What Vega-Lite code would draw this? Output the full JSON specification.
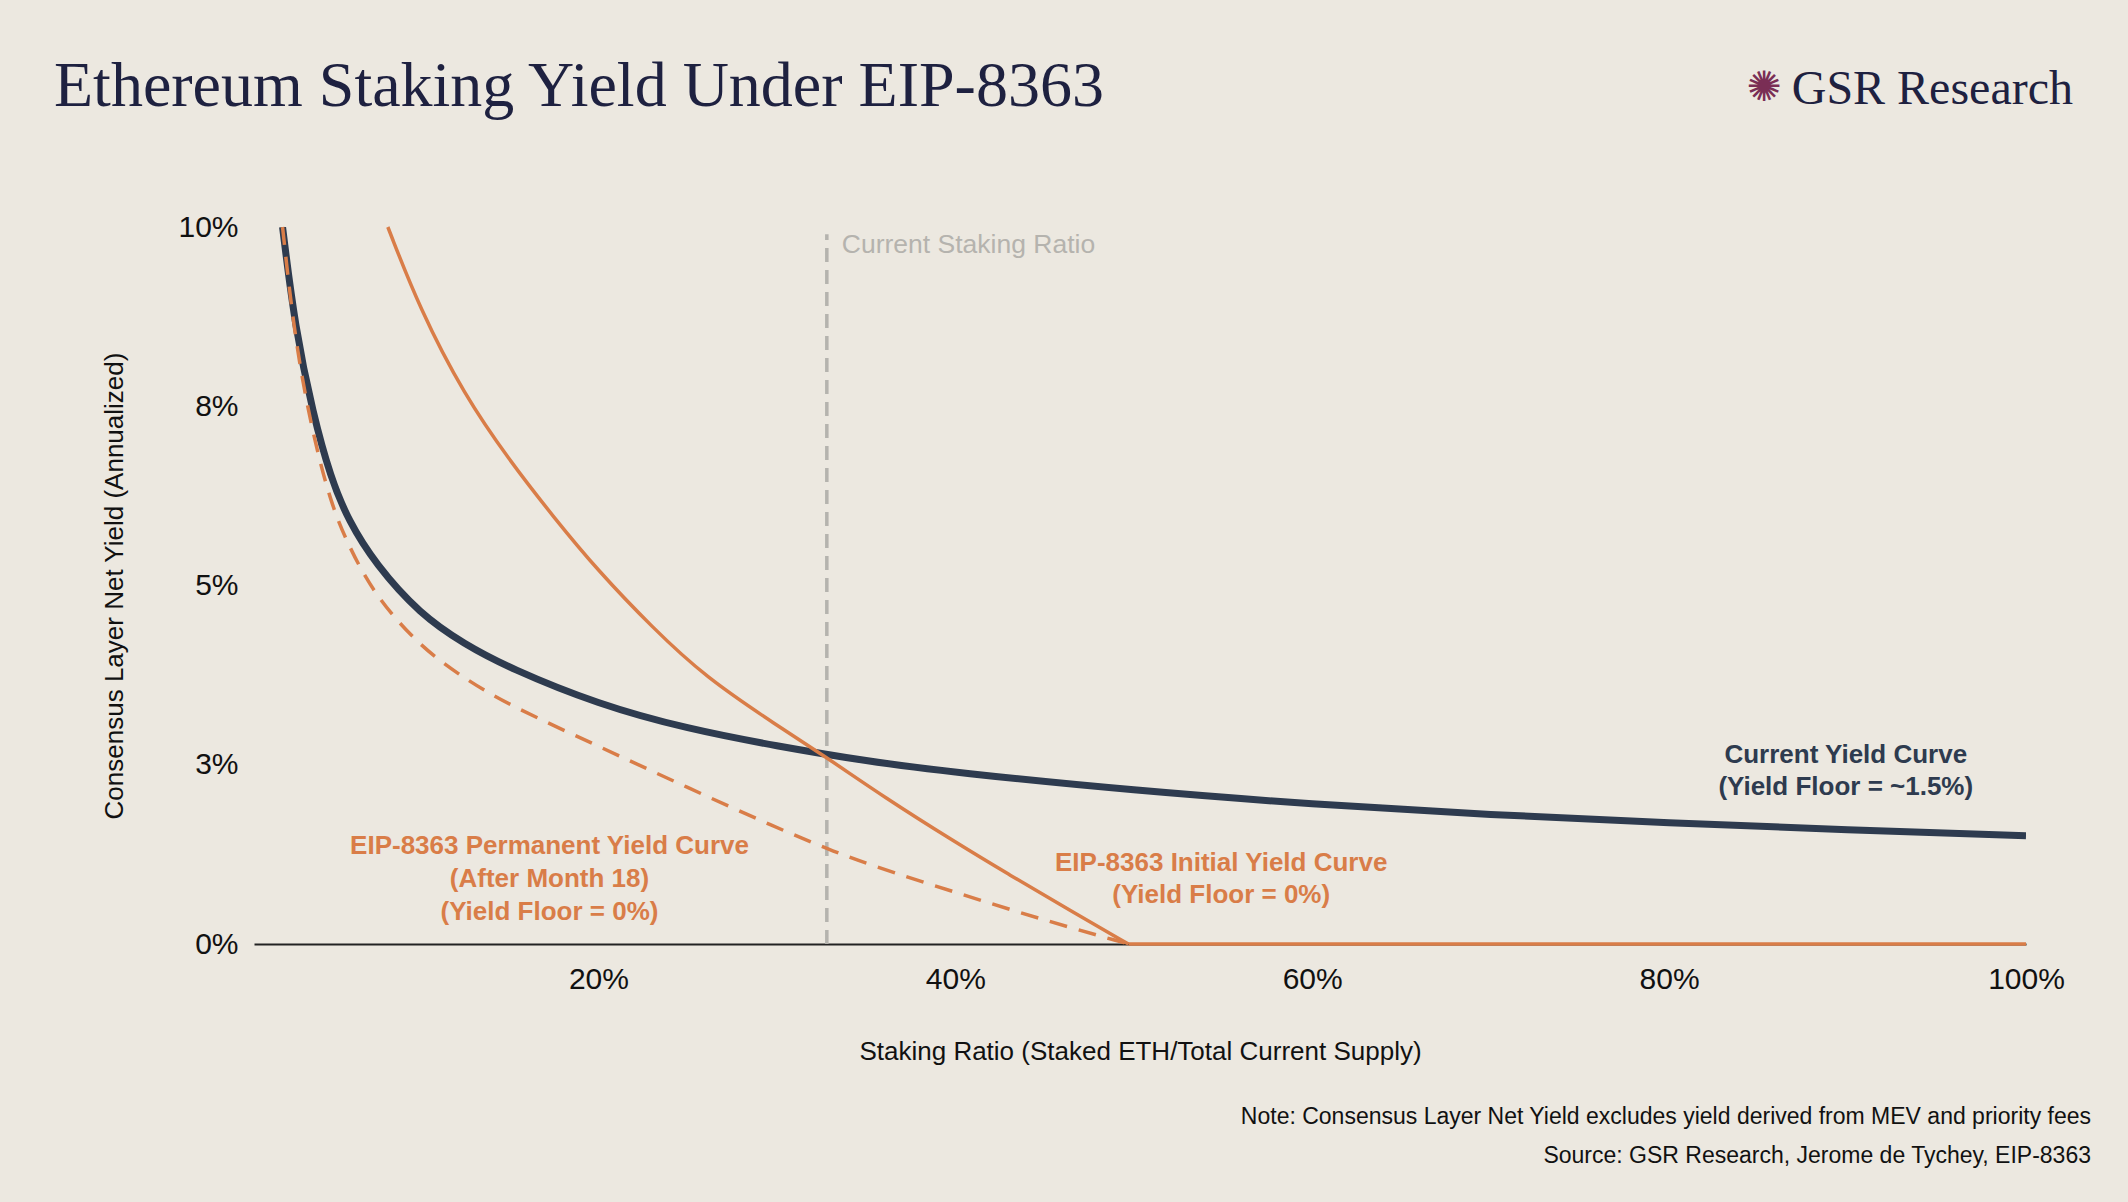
{
  "$schema": "https://vega.github.io/schema/vega-lite/v6.json",
  "autosize": {"type": "none"},
  "width": 1772,
  "height": 717,
  "padding": {"left": 254, "top": 227, "right": 102, "bottom": 258},
  "background": "#ece8e0",
  "datasets": {
    "curves": [
      {"series": "current", "ratio": 0.023, "yield": 10},
      {"series": "current", "ratio": 0.03, "yield": 8.6},
      {"series": "current", "ratio": 0.04, "yield": 7.4},
      {"series": "current", "ratio": 0.05, "yield": 6.5},
      {"series": "current", "ratio": 0.06, "yield": 5.9},
      {"series": "current", "ratio": 0.075, "yield": 5.3},
      {"series": "current", "ratio": 0.1, "yield": 4.6},
      {"series": "current", "ratio": 0.125, "yield": 4.18},
      {"series": "current", "ratio": 0.15, "yield": 3.85},
      {"series": "current", "ratio": 0.2, "yield": 3.34},
      {"series": "current", "ratio": 0.25, "yield": 3.0},
      {"series": "current", "ratio": 0.3, "yield": 2.76},
      {"series": "current", "ratio": 0.35, "yield": 2.55},
      {"series": "current", "ratio": 0.4, "yield": 2.39},
      {"series": "current", "ratio": 0.5, "yield": 2.14},
      {"series": "current", "ratio": 0.6, "yield": 1.95},
      {"series": "current", "ratio": 0.7, "yield": 1.8},
      {"series": "current", "ratio": 0.8, "yield": 1.69},
      {"series": "current", "ratio": 0.9, "yield": 1.59},
      {"series": "current", "ratio": 1.0, "yield": 1.51},
      {"series": "initial", "ratio": 0.082, "yield": 10},
      {"series": "initial", "ratio": 0.1, "yield": 8.85},
      {"series": "initial", "ratio": 0.125, "yield": 7.65},
      {"series": "initial", "ratio": 0.15, "yield": 6.75},
      {"series": "initial", "ratio": 0.175, "yield": 5.95},
      {"series": "initial", "ratio": 0.2, "yield": 5.2},
      {"series": "initial", "ratio": 0.23, "yield": 4.42},
      {"series": "initial", "ratio": 0.26, "yield": 3.72},
      {"series": "initial", "ratio": 0.3, "yield": 3.05},
      {"series": "initial", "ratio": 0.328, "yield": 2.6},
      {"series": "initial", "ratio": 0.36, "yield": 2.05},
      {"series": "initial", "ratio": 0.4, "yield": 1.42},
      {"series": "initial", "ratio": 0.43, "yield": 0.97},
      {"series": "initial", "ratio": 0.46, "yield": 0.53},
      {"series": "initial", "ratio": 0.497, "yield": 0},
      {"series": "floor", "ratio": 0.497, "yield": 0},
      {"series": "floor", "ratio": 1.0, "yield": 0},
      {"series": "permanent", "ratio": 0.023, "yield": 10},
      {"series": "permanent", "ratio": 0.03, "yield": 8.4},
      {"series": "permanent", "ratio": 0.04, "yield": 7.1},
      {"series": "permanent", "ratio": 0.05, "yield": 6.15},
      {"series": "permanent", "ratio": 0.06, "yield": 5.55},
      {"series": "permanent", "ratio": 0.075, "yield": 4.85},
      {"series": "permanent", "ratio": 0.1, "yield": 4.15},
      {"series": "permanent", "ratio": 0.125, "yield": 3.7},
      {"series": "permanent", "ratio": 0.15, "yield": 3.33},
      {"series": "permanent", "ratio": 0.2, "yield": 2.76},
      {"series": "permanent", "ratio": 0.25, "yield": 2.18},
      {"series": "permanent", "ratio": 0.3, "yield": 1.62},
      {"series": "permanent", "ratio": 0.328, "yield": 1.33},
      {"series": "permanent", "ratio": 0.35, "yield": 1.12},
      {"series": "permanent", "ratio": 0.4, "yield": 0.72},
      {"series": "permanent", "ratio": 0.45, "yield": 0.33},
      {"series": "permanent", "ratio": 0.497, "yield": 0}
    ],
    "labels": [
      {"ratio": 0.899, "yield": 2.63, "text": "Current Yield Curve", "group": "navy"},
      {"ratio": 0.899, "yield": 2.19, "text": "(Yield Floor = ~1.5%)", "group": "navy"},
      {"ratio": 0.549, "yield": 1.13, "text": "EIP-8363 Initial Yield Curve", "group": "orange"},
      {"ratio": 0.549, "yield": 0.68, "text": "(Yield Floor = 0%)", "group": "orange"},
      {"ratio": 0.1726, "yield": 1.36, "text": "EIP-8363 Permanent Yield Curve", "group": "orange"},
      {"ratio": 0.1726, "yield": 0.91, "text": "(After Month 18)", "group": "orange"},
      {"ratio": 0.1726, "yield": 0.45, "text": "(Yield Floor = 0%)", "group": "orange"}
    ]
  },
  "layer": [
    {
      "data": {"values": [{"ratio": 0.328, "y0": 0, "y1": 9.9}]},
      "mark": {"type": "rule", "color": "#b5b3ae", "strokeWidth": 3.5, "strokeDash": [14, 8]},
      "encoding": {
        "x": {"field": "ratio", "type": "quantitative"},
        "y": {"field": "y0", "type": "quantitative"},
        "y2": {"field": "y1"}
      }
    },
    {
      "data": {"values": [{"ratio": 0.328, "yield": 9.75, "text": "Current Staking Ratio"}]},
      "mark": {"type": "text", "align": "left", "baseline": "middle", "dx": 15, "font": "Liberation Sans", "fontSize": 26.5, "color": "#b5b3ae"},
      "encoding": {
        "x": {"field": "ratio", "type": "quantitative"},
        "y": {"field": "yield", "type": "quantitative"},
        "text": {"field": "text"}
      }
    },
    {
      "data": {"name": "curves"},
      "transform": [{"filter": "datum.series == 'current'"}],
      "mark": {"type": "line", "color": "#2e3b4f", "strokeWidth": 7, "interpolate": "basis", "clip": true},
      "encoding": {
        "x": {
          "field": "ratio",
          "type": "quantitative",
          "scale": {"domain": [0.007, 1], "nice": false, "zero": false},
          "axis": {
            "values": [0.2, 0.4, 0.6, 0.8, 1.0],
            "format": ".0%",
            "title": "Staking Ratio (Staked ETH/Total Current Supply)",
            "titlePadding": 44,
            "grid": false,
            "ticks": false,
            "labelFlush": false,
            "domainColor": "#222222",
            "domainWidth": 2,
            "labelPadding": 20
          }
        },
        "y": {
          "field": "yield",
          "type": "quantitative",
          "scale": {"domain": [0, 10], "nice": false},
          "axis": {
            "values": [0, 2.5, 5, 7.5, 10],
            "labelExpr": "round(datum.value) + '%'",
            "title": "Consensus Layer Net Yield (Annualized)",
            "titlePadding": 50,
            "grid": false,
            "ticks": false,
            "domain": false,
            "labelFlush": false,
            "labelPadding": 16
          }
        }
      }
    },
    {
      "data": {"name": "curves"},
      "transform": [{"filter": "datum.series == 'initial'"}],
      "mark": {"type": "line", "color": "#d97d48", "strokeWidth": 3.5, "interpolate": "basis"},
      "encoding": {
        "x": {"field": "ratio", "type": "quantitative"},
        "y": {"field": "yield", "type": "quantitative"}
      }
    },
    {
      "data": {"name": "curves"},
      "transform": [{"filter": "datum.series == 'floor'"}],
      "mark": {"type": "line", "color": "#d97d48", "strokeWidth": 3.5},
      "encoding": {
        "x": {"field": "ratio", "type": "quantitative"},
        "y": {"field": "yield", "type": "quantitative"}
      }
    },
    {
      "data": {"name": "curves"},
      "transform": [{"filter": "datum.series == 'permanent'"}],
      "mark": {"type": "line", "color": "#d97d48", "strokeWidth": 3.5, "strokeDash": [18, 12], "interpolate": "basis"},
      "encoding": {
        "x": {"field": "ratio", "type": "quantitative"},
        "y": {"field": "yield", "type": "quantitative"}
      }
    },
    {
      "data": {"name": "labels"},
      "mark": {"type": "text", "align": "center", "baseline": "middle", "font": "Liberation Sans", "fontSize": 26, "fontWeight": "bold"},
      "encoding": {
        "x": {"field": "ratio", "type": "quantitative"},
        "y": {"field": "yield", "type": "quantitative"},
        "text": {"field": "text"},
        "color": {
          "field": "group",
          "type": "nominal",
          "scale": {"domain": ["navy", "orange"], "range": ["#2e3b4f", "#d97d48"]},
          "legend": null
        }
      }
    },
    {
      "data": {"values": [{"ratio": 0.007, "yield": 10, "text": "Ethereum Staking Yield Under EIP-8363"}]},
      "mark": {"type": "text", "align": "left", "baseline": "alphabetic", "dx": -200, "dy": -121, "font": "Liberation Serif", "fontSize": 64, "color": "#1e2140"},
      "encoding": {
        "x": {"field": "ratio", "type": "quantitative"},
        "y": {"field": "yield", "type": "quantitative"},
        "text": {"field": "text"}
      }
    },
    {
      "data": {"values": [{"ratio": 1.0, "yield": 10, "text": "GSR Research"}]},
      "mark": {"type": "text", "align": "right", "baseline": "alphabetic", "dx": 47, "dy": -123, "font": "Liberation Serif", "fontSize": 48, "color": "#1e2140"},
      "encoding": {
        "x": {"field": "ratio", "type": "quantitative"},
        "y": {"field": "yield", "type": "quantitative"},
        "text": {"field": "text"}
      }
    },
    {
      "data": {"values": [{"ratio": 1.0, "yield": 10, "text": "✺"}]},
      "mark": {"type": "text", "align": "center", "baseline": "middle", "dx": -262, "dy": -139, "font": "DejaVu Sans", "fontSize": 42, "color": "#7a2e55"},
      "encoding": {
        "x": {"field": "ratio", "type": "quantitative"},
        "y": {"field": "yield", "type": "quantitative"},
        "text": {"field": "text"}
      }
    },
    {
      "data": {"values": [
        {"ratio": 1.0, "yield": 0, "text": "Note: Consensus Layer Net Yield excludes yield derived from MEV and priority fees"}
      ]},
      "mark": {"type": "text", "align": "right", "baseline": "middle", "dx": 65, "dy": 173, "font": "Liberation Sans", "fontSize": 23, "color": "#111111"},
      "encoding": {
        "x": {"field": "ratio", "type": "quantitative"},
        "y": {"field": "yield", "type": "quantitative"},
        "text": {"field": "text"}
      }
    },
    {
      "data": {"values": [
        {"ratio": 1.0, "yield": 0, "text": "Source: GSR Research, Jerome de Tychey, EIP-8363"}
      ]},
      "mark": {"type": "text", "align": "right", "baseline": "middle", "dx": 65, "dy": 212, "font": "Liberation Sans", "fontSize": 23, "color": "#111111"},
      "encoding": {
        "x": {"field": "ratio", "type": "quantitative"},
        "y": {"field": "yield", "type": "quantitative"},
        "text": {"field": "text"}
      }
    }
  ],
  "config": {
    "view": {"stroke": null},
    "axis": {
      "labelFont": "Liberation Sans",
      "labelFontSize": 30,
      "labelColor": "#111111",
      "titleFont": "Liberation Sans",
      "titleFontSize": 26,
      "titleFontWeight": "normal",
      "titleColor": "#111111"
    }
  }
}
